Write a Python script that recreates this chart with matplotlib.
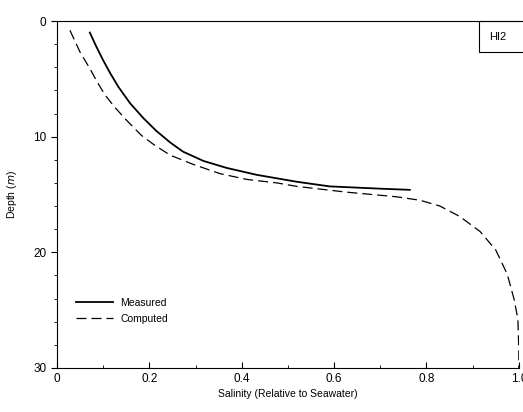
import numpy as np
import matplotlib
matplotlib.use("Agg")
import matplotlib.pyplot as plt
from matplotlib.patches import Rectangle
from matplotlib.ticker import MultipleLocator

plt.rcParams['font.family'] = ['Liberation Sans', 'DejaVu Sans']

# measured profile (salinity relative to seawater, depth m)
meas_sal = [0.071, 0.085, 0.100, 0.115, 0.133, 0.158, 0.187, 0.215, 0.245, 0.273, 0.317,
            0.367, 0.432, 0.519, 0.590, 0.700, 0.764]
meas_dep = [1.0, 2.2, 3.4, 4.5, 5.7, 7.1, 8.4, 9.5, 10.5, 11.3, 12.1,
            12.7, 13.3, 13.9, 14.3, 14.5, 14.6]

# computed profile
comp_sal = [0.028, 0.050, 0.071, 0.086, 0.104, 0.126, 0.151, 0.183, 0.210, 0.245, 0.295,
            0.353, 0.411, 0.476, 0.519, 0.627, 0.735, 0.786, 0.829, 0.872, 0.916,
            0.950, 0.975, 0.990, 0.998, 1.000, 1.000]
comp_dep = [0.8, 2.7, 4.1, 5.2, 6.4, 7.5, 8.6, 9.9, 10.7, 11.6, 12.4,
            13.2, 13.7, 14.0, 14.3, 14.8, 15.2, 15.5, 16.0, 16.9, 18.2,
            19.8, 21.9, 24.1, 25.8, 28.4, 30.0]

fig = plt.figure(figsize=(5.23, 4.12), dpi=100)
ax = fig.add_axes([0.109, 0.107, 0.883, 0.842])

ax.plot(meas_sal, meas_dep, color="black", lw=1.3, label="Measured")
ax.plot(comp_sal, comp_dep, color="black", lw=0.9, dashes=(8, 4), label="Computed")

ax.set_xlim(0, 1.0)
ax.set_ylim(30, 0)
ax.set_xticks([0, 0.2, 0.4, 0.6, 0.8, 1.0])
ax.set_xticklabels(["0", "0.2", "0.4", "0.6", "0.8", "1.0"])
ax.set_yticks([0, 10, 20, 30])
ax.xaxis.set_minor_locator(MultipleLocator(0.1))
ax.yaxis.set_minor_locator(MultipleLocator(2))
ax.tick_params(axis="x", which="both", direction="in", labelsize=8.5)
ax.tick_params(axis="x", which="major", length=4)
ax.tick_params(axis="x", which="minor", length=2.5)
ax.tick_params(axis="y", which="both", direction="out", labelsize=8.5)
ax.tick_params(axis="y", which="major", length=4)
ax.tick_params(axis="y", which="minor", length=2)
ax.spines["right"].set_visible(False)

ax.set_xlabel("Salinity (Relative to Seawater)", fontsize=7.5, labelpad=3)
ax.set_ylabel("Depth ($\\mathit{m}$)", fontsize=7.5, labelpad=10)

ax.legend(loc="lower left", bbox_to_anchor=(0.02, 0.1), frameon=False, fontsize=7.5,
          handlelength=3.6, handletextpad=0.7, labelspacing=0.6)

# panel label box
ax.add_patch(Rectangle((0.913, 0.91), 0.1, 0.09, transform=ax.transAxes,
                       fill=False, ec="black", lw=0.8, clip_on=False))
ax.text(0.935, 0.955, "HI2", transform=ax.transAxes, fontsize=8, va="center", ha="left")

fig.savefig("out.png", dpi=100)
